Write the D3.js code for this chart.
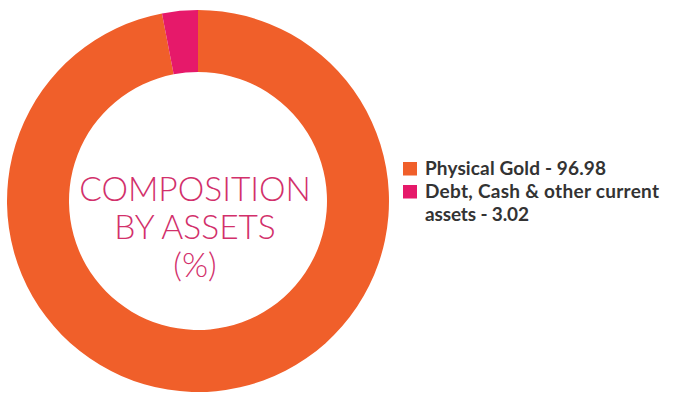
<!DOCTYPE html>
<html>
<head>
<meta charset="utf-8">
<script src="https://cdn.jsdelivr.net/npm/d3@7"></script>
<style>
  html, body { margin: 0; padding: 0; background: #fff; }
  svg { display: block; }
</style>
</head>
<body>
<svg id="chart" width="676" height="415"></svg>
<script>
const categories = ["Physical Gold", "Debt, Cash & other current assets"];
const values = [96.98, 3.02];
const colors = ["#F05F2A", "#E6196A"];
const legendLines = [["Physical Gold - 96.98"], ["Debt, Cash & other current", "assets - 3.02"]];
const legendWidths = [[181], [234, 104]];
const centerLines = ["COMPOSITION", "BY ASSETS", "(%)"];

const svg = d3.select("#chart");
const cx = 198, cy = 201, rOuter = 191, rInner = 129;

const data = categories.map((c, i) => ({ name: c, value: values[i], color: colors[i] }));
const pie = d3.pie().value(d => d.value).sort(null);
const arc = d3.arc().innerRadius(rInner).outerRadius(rOuter);

const g = svg.append("g").attr("transform", `translate(${cx},${cy})`);
g.selectAll("path").data(pie(data)).join("path")
  .attr("d", arc)
  .attr("fill", d => d.data.color);

const center = g.append("text")
  .attr("text-anchor", "middle")
  .attr("font-family", "Lato, sans-serif")
  .attr("font-weight", 300)
  .attr("font-size", 33.5)
  .attr("fill", "#D2306B");
centerLines.forEach((t, i) => {
  center.append("tspan").attr("x", -3).attr("y", 0 + i * 38).text(t);
});

const legend = svg.append("g").attr("transform", "translate(403,0)");
const rowY = [162, 185];
data.forEach((d, i) => {
  legend.append("rect").attr("x", 0).attr("y", rowY[i]).attr("width", 14).attr("height", 13.5).attr("fill", d.color);
  const t = legend.append("text")
    .attr("font-family", "Lato, sans-serif")
    .attr("font-weight", 700)
    .attr("font-size", 19)
    .attr("fill", "#333333");
  legendLines[i].forEach((line, j) => {
    t.append("tspan").attr("x", 22).attr("y", rowY[i] + 13 + j * 23)
      .attr("textLength", legendWidths[i][j]).attr("lengthAdjust", "spacing")
      .text(line);
  });
});
</script>
</body>
</html>
